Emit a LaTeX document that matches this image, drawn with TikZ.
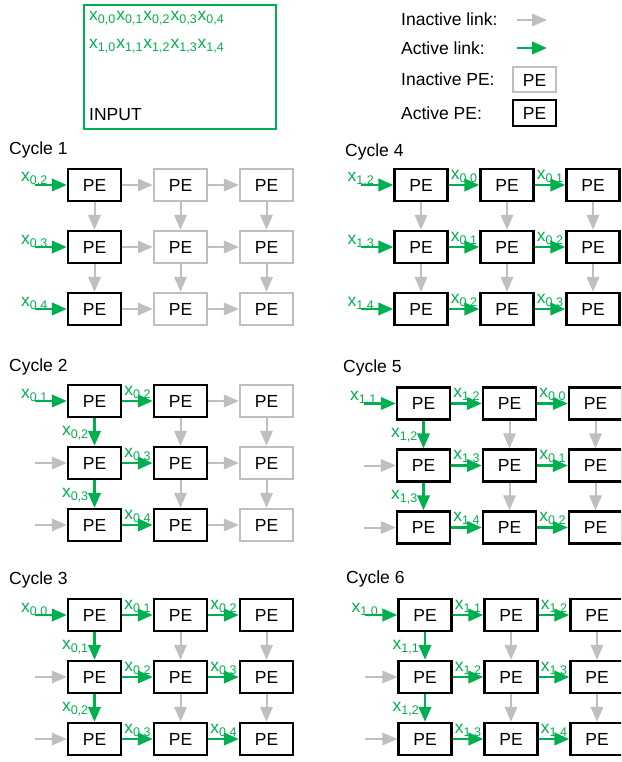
\documentclass[tikz,border=0pt]{standalone}
\usepackage{fontspec}
\setmainfont{Liberation Sans}
\usetikzlibrary{arrows.meta}
\definecolor{actgreen}{HTML}{00B050}
\definecolor{linkgray}{HTML}{BFBFBF}
\newcommand{\xsub}[1]{x\raisebox{-3pt}{\fontsize{12.5}{12.5}\selectfont #1}}
\tikzset{
  pe/.style={draw=#1, line width=2.4pt, minimum width=53pt, minimum height=32pt, inner sep=0pt},
  inlink/.style={draw=linkgray, line width=2pt, -{Triangle[length=15pt,width=12.5pt]}},
  actlink/.style={draw=actgreen, line width=2.6pt, -{Triangle[length=15pt,width=12.5pt]}},
  lbl/.style={text=actgreen, inner sep=0pt},
  hlbl/.style={lbl, midway, anchor=base, yshift=6pt},
  vlbl/.style={lbl, midway, anchor=base east, xshift=-5pt, yshift=-3pt},
  ilbl/.style={lbl, pos=0, anchor=base west, xshift=-15pt, yshift=3pt},
  inbox/.style={draw=actgreen, line width=2.2pt, minimum width=192pt, minimum height=124pt},
}

\begin{document}
\begin{tikzpicture}[x=1pt, y=-1pt, font=\fontsize{17.5}{20}\selectfont]
    \path[use as bounding box] (0,0) rectangle (621,762);
    \clip (0,0) rectangle (621,762);
    % input and legend
    \node[inbox] (input) at (180,67) {};
    \node[lbl, anchor=base west] (row0) at (89,20.7) {\xsub{0,0}\hspace{1pt}\xsub{0,1}\hspace{1pt}\xsub{0,2}\hspace{1pt}\xsub{0,3}\hspace{1pt}\xsub{0,4}};
    \node[lbl, anchor=base west] (row1) at (89,48.3) {\xsub{1,0}\hspace{1pt}\xsub{1,1}\hspace{1pt}\xsub{1,2}\hspace{1pt}\xsub{1,3}\hspace{1pt}\xsub{1,4}};
    \node[anchor=base west, inner sep=0pt] (intxt) at (89,121) {INPUT};
    \node[anchor=base west, inner sep=0pt] (lgt1) at (401,26) {Inactive link:};
    \node[anchor=base west, inner sep=0pt] (lgt2) at (401,55) {Active link:};
    \node[anchor=base west, inner sep=0pt] (lgt3) at (401,86) {Inactive PE:};
    \node[anchor=base west, inner sep=0pt] (lgt4) at (401,120) {Active PE:};
    \coordinate (lga1) at (517,20);
    \coordinate (lgb1) at (547,20);
    \coordinate (lga2) at (517,48);
    \coordinate (lgb2) at (547,48);
    \draw[inlink] (lga1) -- (lgb1);
    \draw[actlink] (lga2) -- (lgb2);
    \node[pe=linkgray, line width=2pt, minimum width=43pt, minimum height=25pt] (lgin) at (534.5,80) {PE};
    \node[pe=black, minimum width=43pt, minimum height=26pt] (lgact) at (534.5,113) {PE};
    % the six cycles
    \foreach \k/\px/\py in {1/9/150,2/9/367,3/9/580,4/345/152,5/343/368,6/346/579}
        \node[anchor=west, inner sep=0pt] (cyc\k) at (\px,\py) {Cycle \k};
    \foreach \k/\ox/\oy/\na in {1/94.5/185/1,2/94.5/401/2,3/94.5/615/3,4/421/185/3,5/423.5/403.5/3,6/425/615/3}
        \foreach \r in {1,2,3}
            \foreach \c in {1,2,3}{
                \ifnum\c>\na\def\dc{linkgray}\else\def\dc{black}\fi
                \node[pe=\dc] (c\k-\r-\c) at ({\ox+86*(\c-1)},{\oy+62*(\r-1)}) {PE};
            }
    % inactive links
    \foreach \k/\c in {1/1,1/2,1/3,2/2,2/3,3/2,3/3,4/1,4/2,4/3,5/2,5/3,6/2,6/3}
        \foreach \r/\s in {1/2,2/3}
            \draw[inlink] (c\k-\r-\c) -- (c\k-\s-\c);
    \foreach \k/\r/\c/\d in {1/1/1/2,1/1/2/3,1/2/1/2,1/2/2/3,1/3/1/2,1/3/2/3,2/1/2/3,2/2/2/3,2/3/2/3}
        \draw[inlink] (c\k-\r-\c) -- (c\k-\r-\d);
    \foreach \k in {2,3,5,6}
        \foreach \r in {2,3}{
            \coordinate (s\k-\r) at ([xshift=-32pt]c\k-\r-1.west);
            \draw[inlink] (s\k-\r) -- (c\k-\r-1);
        }
    % active links
    \foreach \k/\r/\a in {1/1/{0,2},1/2/{0,3},1/3/{0,4},2/1/{0,1},3/1/{0,0},4/1/{1,2},4/2/{1,3},4/3/{1,4},5/1/{1,1},6/1/{1,0}}{
        \coordinate (s\k-\r) at ([xshift=-32pt]c\k-\r-1.west);
        \draw[actlink] (s\k-\r) -- (c\k-\r-1) node[ilbl] {\xsub{\a}};
    }
    \foreach \k/\a/\b in {2/{0,2}/{0,3},3/{0,1}/{0,2},5/{1,2}/{1,3},6/{1,1}/{1,2}}{
        \draw[actlink] (c\k-1-1) -- (c\k-2-1) node[vlbl] {\xsub{\a}};
        \draw[actlink] (c\k-2-1) -- (c\k-3-1) node[vlbl] {\xsub{\b}};
    }
    \foreach \k/\r/\c/\d/\a in {2/1/1/2/{0,2},2/2/1/2/{0,3},2/3/1/2/{0,4},
        3/1/1/2/{0,1},3/2/1/2/{0,2},3/3/1/2/{0,3},3/1/2/3/{0,2},3/2/2/3/{0,3},3/3/2/3/{0,4},
        4/1/1/2/{0,0},4/2/1/2/{0,1},4/3/1/2/{0,2},4/1/2/3/{0,1},4/2/2/3/{0,2},4/3/2/3/{0,3},
        5/1/1/2/{1,2},5/2/1/2/{1,3},5/3/1/2/{1,4},5/1/2/3/{0,0},5/2/2/3/{0,1},5/3/2/3/{0,2},
        6/1/1/2/{1,1},6/2/1/2/{1,2},6/3/1/2/{1,3},6/1/2/3/{1,2},6/2/2/3/{1,3},6/3/2/3/{1,4}}
        \draw[actlink] (c\k-\r-\c) -- (c\k-\r-\d) node[hlbl] {\xsub{\a}};
\end{tikzpicture}
\end{document}
